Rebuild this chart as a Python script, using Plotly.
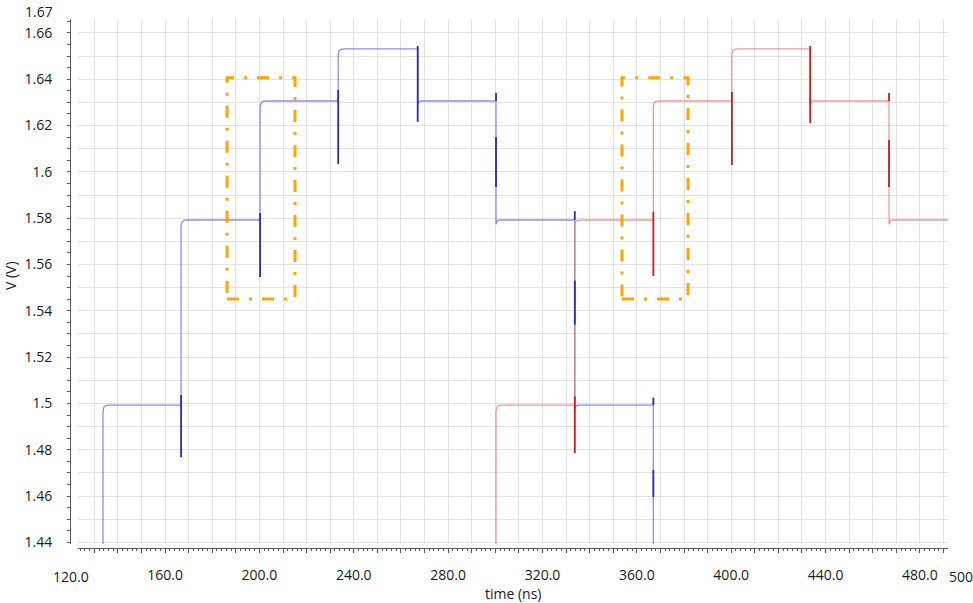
import plotly.graph_objects as go

# ---------------- data ----------------
# transition instants (ns) and the settled level (V) after each transition
blue_times = [133.7, 166.8, 200.3, 233.4, 267.1, 300.3, 333.7, 367.0]
blue_levels = [1.4993, 1.5792, 1.6306, 1.6531, 1.6306, 1.5792, 1.4993, 1.40]
red_times = [300.3, 333.7, 367.0, 400.3, 433.5, 466.9]
red_levels = [1.4993, 1.5792, 1.6306, 1.6531, 1.6306, 1.5792]
start_level = 1.40          # below the visible range
red_end_time = 492.0

# switching glitches (dark segments): time, low, high
blue_glitch_t = [166.8, 200.3, 233.4, 267.1, 300.3, 300.3, 333.7, 333.7, 367.0, 367.0]
blue_glitch_lo = [1.4768, 1.5546, 1.6034, 1.6216, 1.5935, 1.6306, 1.5340, 1.5792, 1.4596, 1.4993]
blue_glitch_hi = [1.5036, 1.5822, 1.6354, 1.6544, 1.6150, 1.6340, 1.5530, 1.5830, 1.4712, 1.5025]
red_glitch_t = [333.7, 367.0, 400.3, 433.5, 466.9, 466.9]
red_glitch_lo = [1.4786, 1.5550, 1.6030, 1.6211, 1.5935, 1.6306]
red_glitch_hi = [1.5030, 1.5827, 1.6345, 1.6544, 1.6138, 1.6340]

# highlighted windows (orange dash-dot boxes)
box_t0 = [186.3, 353.7]
box_t1 = [215.1, 381.7]
box_v0 = 1.5451
box_v1 = 1.6406

# axes
x_range = [123.1, 491.9]
y_range = [1.4393, 1.6660]
x_label_vals = [160, 200, 240, 280, 320, 360, 400, 440, 480]
x_grid_vals = list(range(130, 500, 10))
y_label_vals = [1.44, 1.46, 1.48, 1.50, 1.52, 1.54, 1.56, 1.58, 1.60, 1.62, 1.64, 1.66]
x_edge_labels = [120.0, 500.0]
y_edge_label = 1.67

# ---------------- geometry ----------------
W, H = 973, 603
ML, MR, MT, MB = 70, 25, 19, 55
plot_w = W - ML - MR
plot_h = H - MT - MB
x_gap_px = 8     # gap between y axis line and plotting area
y_gap_px = 4     # gap between x axis line and plotting area
xdom = [x_gap_px / plot_w, 1]
ydom = [y_gap_px / plot_h, 1]


def x_to_paper(t):
    f = (t - x_range[0]) / (x_range[1] - x_range[0])
    return xdom[0] + f * (xdom[1] - xdom[0])


def y_to_paper(v):
    f = (v - y_range[0]) / (y_range[1] - y_range[0])
    return ydom[0] + f * (ydom[1] - ydom[0])


def step_path(times, levels, lvl0, end_time):
    xs, ys = [], []
    prev = lvl0
    for t, lv in zip(times, levels):
        xs.append(t)
        ys.append(prev)
        if lv > prev:   # rising edge with rounded settling corner
            xs += [t, t + 0.35, t + 1.1, t + 2.6]
            ys += [lv - 0.0028, lv - 0.0009, lv - 0.0002, lv]
        else:           # falling edge with small undershoot hook
            xs += [t, t + 0.5, t + 1.3]
            ys += [lv - 0.0018, lv - 0.0004, lv]
        prev = lv
    if end_time is not None:
        xs.append(end_time)
        ys.append(prev)
    return xs, ys


def glitch_path(ts, los, his):
    xs, ys = [], []
    for t, lo, hi in zip(ts, los, his):
        xs += [t, t, None]
        ys += [lo, hi, None]
    return xs, ys


FONT = "Open Sans"
BLUE_LIGHT = "rgba(95,95,215,0.70)"
BLUE_DARK = "#2a2ab4"
RED_LIGHT = "rgba(222,115,115,0.70)"
RED_DARK = "#c81c1c"
ORANGE = "#FFA500"

fig = go.Figure()

bx, by = step_path(blue_times, blue_levels, start_level, None)
rx, ry = step_path(red_times, red_levels, start_level, red_end_time)
gbx, gby = glitch_path(blue_glitch_t, blue_glitch_lo, blue_glitch_hi)
grx, gry = glitch_path(red_glitch_t, red_glitch_lo, red_glitch_hi)

fig.add_trace(go.Scatter(x=bx, y=by, mode="lines", line=dict(color=BLUE_LIGHT, width=1.3),
                         hoverinfo="skip"))
fig.add_trace(go.Scatter(x=rx, y=ry, mode="lines", line=dict(color=RED_LIGHT, width=1.3),
                         hoverinfo="skip"))
fig.add_trace(go.Scatter(x=gbx, y=gby, mode="lines", line=dict(color=BLUE_DARK, width=1.8),
                         hoverinfo="skip"))
fig.add_trace(go.Scatter(x=grx, y=gry, mode="lines", line=dict(color=RED_DARK, width=1.8),
                         hoverinfo="skip"))
# dummy trace to create the overlaid axis-line subplot
fig.add_trace(go.Scatter(x=[None], y=[None], xaxis="x2", yaxis="y2", mode="lines",
                         hoverinfo="skip"))

for t0, t1 in zip(box_t0, box_t1):
    fig.add_shape(type="rect", x0=t0, x1=t1, y0=box_v0, y1=box_v1, xref="x", yref="y",
                  line=dict(color=ORANGE, width=3, dash="12px,10px,3px,10px"),
                  fillcolor="rgba(0,0,0,0)")

tick_font = dict(family=FONT, size=14, color="#1a1a1a")
title_font = dict(family=FONT, size=14, color="#1a1a1a")
axis_col = "#5a5a5a"

fig.update_layout(
    width=W, height=H,
    margin=dict(l=ML, r=MR, t=MT, b=MB),
    plot_bgcolor="white", paper_bgcolor="white",
    showlegend=False,
    xaxis=dict(range=x_range, domain=xdom, showgrid=True, gridcolor="#e2e2e2", gridwidth=1,
               tickmode="array", tickvals=x_grid_vals, showticklabels=False, ticks="",
               showline=False, zeroline=False),
    yaxis=dict(range=y_range, domain=ydom, showgrid=True, gridcolor="#e2e2e2", gridwidth=1,
               tick0=0, dtick=0.01, showticklabels=False, ticks="",
               showline=False, zeroline=False),
    xaxis2=dict(overlaying="x", anchor="free", position=0, range=x_range, side="bottom",
                showgrid=False, zeroline=False, showline=True, linecolor=axis_col, linewidth=1,
                ticks="outside", ticklen=4, tickcolor=axis_col, tickwidth=1,
                tickmode="array", tickvals=x_grid_vals,
                ticktext=[f"{v:.1f}" if v in x_label_vals else "" for v in x_grid_vals],
                ticklabelstandoff=10, tickfont=tick_font,
                minor=dict(tick0=0, dtick=2, ticks="outside", ticklen=2, tickcolor=axis_col,
                           showgrid=False)),
    yaxis2=dict(overlaying="y", anchor="free", position=0, range=y_range, side="left",
                showgrid=False, zeroline=False, showline=True, linecolor=axis_col, linewidth=1,
                ticks="outside", ticklen=3, tickcolor=axis_col, tickwidth=1,
                tickmode="array", tickvals=y_label_vals,
                ticktext=[f"{v:g}" for v in y_label_vals],
                ticklabelstandoff=12, tickfont=tick_font,
                minor=dict(tick0=0, dtick=0.005, ticks="outside", ticklen=3, tickcolor=axis_col,
                           showgrid=False)),
)

# edge value labels drawn by the original tool outside the data window
for v in x_edge_labels:
    fig.add_annotation(x=x_to_paper(v), y=0, xref="paper", yref="paper", text=f"{v:.1f}",
                       showarrow=False, xanchor="center", yanchor="top", yshift=-17,
                       font=tick_font)
fig.add_annotation(x=0, y=y_to_paper(y_edge_label), xref="paper", yref="paper",
                   text=f"{y_edge_label:g}", showarrow=False, xanchor="right", yanchor="middle",
                   xshift=-15, yshift=-2, font=tick_font)

# axis titles
fig.add_annotation(x=x_to_paper(sum(x_range) / 2), y=0, xref="paper", yref="paper",
                   text="time (ns)", showarrow=False, xanchor="center", yanchor="top",
                   yshift=-34, font=title_font)
fig.add_annotation(x=0, y=y_to_paper(1.555), xref="paper", yref="paper", text="V (V)",
                   textangle=-90, showarrow=False, xanchor="center", yanchor="middle",
                   xshift=-60, font=title_font)

# remove the default 8px page margin so the figure fills the window exactly
fig.write_html("out.html", config={"displayModeBar": False},
               post_script="document.body.style.margin='0px';document.body.style.overflow='hidden';")
